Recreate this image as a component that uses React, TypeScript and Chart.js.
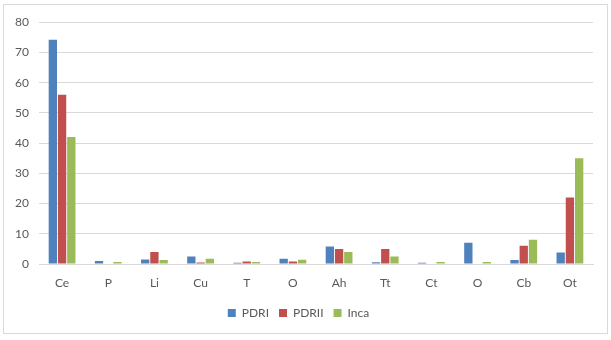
import React, { useEffect, useRef } from "react";
import { Chart, registerables } from "chart.js";

Chart.register(...registerables);

const categories = ["Ce", "P", "Li", "Cu", "T", "O", "Ah", "Tt", "Ct", "O", "Cb", "Ot"];
const pdri = [74.2, 1.0, 1.5, 2.5, 0.4, 1.7, 5.8, 0.6, 0.4, 7.0, 1.3, 3.8];
const pdrii = [56.0, 0, 4.0, 0.5, 0.8, 0.8, 5.0, 5.0, 0, 0, 6.0, 22.0];
const inca = [42.0, 0.7, 1.3, 1.7, 0.7, 1.4, 4.0, 2.5, 0.7, 0.7, 8.0, 35.0];
const seriesNames = ["PDRI", "PDRII", "Inca"];
const seriesColors = ["#4F81BD", "#C0504D", "#9BBB59"];
const yTicks = [0, 10, 20, 30, 40, 50, 60, 70, 80];

const FONT = "Lato, 'Liberation Sans', sans-serif";

export default function App() {
  const ref = useRef<HTMLCanvasElement | null>(null);

  useEffect(() => {
    document.body.style.margin = "0";
    const ctx = ref.current;
    if (!ctx) return;
    const data = [pdri, pdrii, inca];
    const chart = new Chart(ctx, {
      type: "bar",
      data: {
        labels: categories,
        datasets: seriesNames.map((name, i) => ({
          label: name,
          data: data[i],
          backgroundColor: seriesColors[i],
          borderWidth: 0,
          categoryPercentage: 0.6,
          barPercentage: 0.9,
        })),
      },
      options: {
        responsive: false,
        animation: false,
        layout: { padding: { left: 0, right: 14, top: 16, bottom: 4 } },
        plugins: {
          tooltip: { enabled: false },
          legend: {
            position: "bottom",
            labels: {
              boxWidth: 8,
              boxHeight: 8,
              padding: 10,
              color: "#595959",
              font: { family: FONT, size: 12 },
            },
          },
        },
        scales: {
          x: {
            grid: { display: false, drawTicks: false },
            border: { display: true, color: "#d9d9d9" },
            ticks: {
              color: "#595959",
              font: { family: FONT, size: 12 },
              padding: 12,
            },
            afterFit: (s: any) => {
              s.height = 33;
            },
          },
          y: {
            min: 0,
            max: 80,
            afterBuildTicks: (s: any) => {
              s.ticks = yTicks.map((v) => ({ value: v }));
            },
            grid: { color: "#d9d9d9", drawTicks: false },
            border: { display: false },
            ticks: {
              color: "#595959",
              font: { family: FONT, size: 12 },
              padding: 10,
            },
            afterFit: (s: any) => {
              s.width = 35;
            },
          },
        },
      },
    });
    return () => chart.destroy();
  }, []);

  return (
    <div
      style={{
        position: "absolute",
        left: 3,
        top: 4,
        width: 605,
        height: 330,
        border: "1px solid #d9d9d9",
        boxSizing: "border-box",
        background: "#fff",
      }}
    >
      <canvas ref={ref} width={603} height={328} style={{ display: "block" }} />
    </div>
  );
}
